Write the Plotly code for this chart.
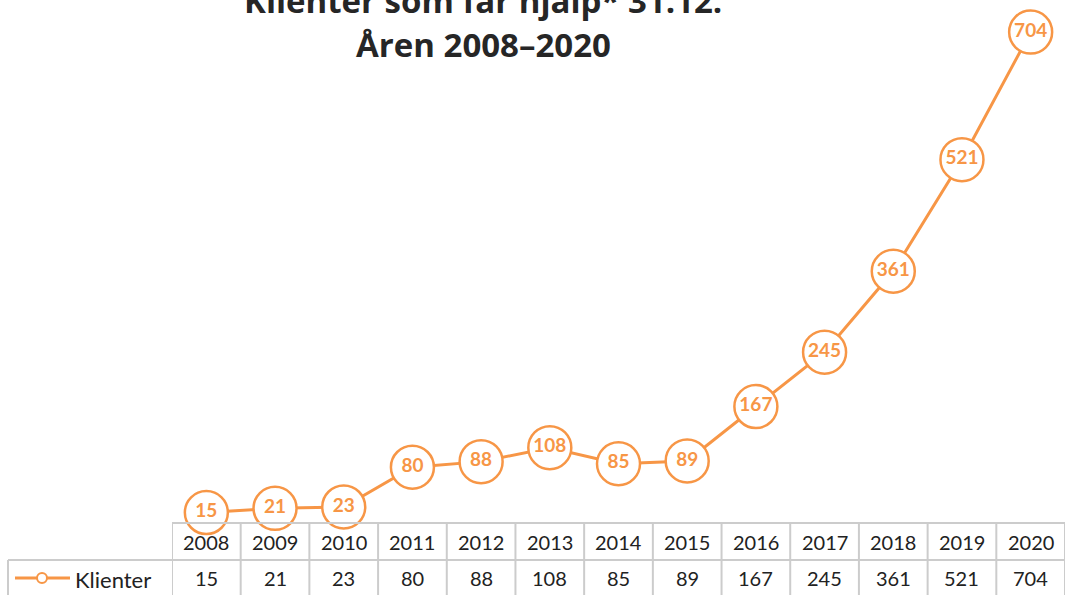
import plotly.graph_objects as go

years = ["2008", "2009", "2010", "2011", "2012", "2013", "2014",
         "2015", "2016", "2017", "2018", "2019", "2020"]
klienter = [15, 21, 23, 80, 88, 108, 85, 89, 167, 245, 361, 521, 704]
series_name = "Klienter"
title_line1 = "Klienter som får hjälp* 31.12."
title_line2 = "Åren 2008–2020"

ORANGE = "#F79646"
GRID = "#cccccc"
TXT = "#222222"
W, H = 1065, 595
L, B = 172, 72
PH = H - B          # plot height in px
PW = W - L          # plot width in px


def py(p):  # pixel y -> paper y
    return (PH - p) / PH


def px(p):  # pixel x -> paper x
    return (p - L) / PW


fig = go.Figure()
fig.add_trace(go.Scatter(
    x=years, y=klienter, mode="lines+markers+text",
    line=dict(color=ORANGE, width=3),
    marker=dict(size=43, color="white", line=dict(color=ORANGE, width=2.5)),
    text=[f"<b>{v}</b>" for v in klienter], textposition="middle center",
    textfont=dict(family="Lato", size=19, color=ORANGE),
    cliponaxis=False, showlegend=False, hoverinfo="skip",
))

shapes = []
n = len(years)
# horizontal table lines
shapes.append(dict(type="line", xref="paper", yref="paper", x0=0, x1=1,
                   y0=py(523), y1=py(523), line=dict(color=GRID, width=2)))
shapes.append(dict(type="line", xref="paper", yref="paper", x0=px(8), x1=1,
                   y0=py(560), y1=py(560), line=dict(color=GRID, width=2)))
# vertical column lines
for k in range(n + 1):
    shapes.append(dict(type="line", xref="x", yref="paper", x0=k - 0.5, x1=k - 0.5,
                       y0=py(523), y1=py(600), line=dict(color=GRID, width=2)))
shapes.append(dict(type="line", xref="paper", yref="paper", x0=px(8), x1=px(8),
                   y0=py(560), y1=py(600), line=dict(color=GRID, width=2)))
# legend symbol
shapes.append(dict(type="line", xref="paper", yref="paper", x0=px(15), x1=px(70),
                   y0=py(578), y1=py(578), line=dict(color=ORANGE, width=3)))
r = 5
shapes.append(dict(type="circle", xref="paper", yref="paper",
                   x0=px(42 - r), x1=px(42 + r), y0=py(578 + r), y1=py(578 - r),
                   fillcolor="white", line=dict(color=ORANGE, width=2)))

annotations = []
for i, (yr, v) in enumerate(zip(years, klienter)):
    annotations.append(dict(x=i, y=py(542), xref="x", yref="paper", text=yr,
                            xanchor="center", yanchor="middle", showarrow=False,
                            font=dict(family="Lato", size=20, color=TXT)))
    annotations.append(dict(x=i, y=py(578), xref="x", yref="paper", text=str(v),
                            xanchor="center", yanchor="middle", showarrow=False,
                            font=dict(family="Lato", size=20, color=TXT)))
annotations.append(dict(x=px(73), y=py(579), xref="paper", yref="paper", text=series_name,
                        xanchor="left", yanchor="middle", showarrow=False,
                        font=dict(family="Lato", size=22, color=TXT)))
annotations.append(dict(x=px(483), y=py(1), xref="paper", yref="paper", text=f"<b>{title_line1}</b>",
                        xanchor="center", yanchor="middle", showarrow=False,
                        font=dict(family="Open Sans", size=33, color="#262626")))
annotations.append(dict(x=px(483), y=py(44), xref="paper", yref="paper", text=f"<b>{title_line2}</b>",
                        xanchor="center", yanchor="middle", showarrow=False,
                        font=dict(family="Open Sans", size=33, color="#262626")))

fig.update_layout(
    width=W, height=H,
    margin=dict(l=L, r=0, t=0, b=B),
    paper_bgcolor="white", plot_bgcolor="white",
    xaxis=dict(type="category", range=[-0.5, n - 0.5], showticklabels=False,
               showgrid=False, zeroline=False, showline=False, fixedrange=True),
    yaxis=dict(range=[0, 750], showticklabels=False, showgrid=False,
               zeroline=False, showline=False, fixedrange=True),
    shapes=shapes, annotations=annotations,
)

fig.write_html("out.html", config={"displayModeBar": False},
               post_script="document.body.style.margin='0px';")
